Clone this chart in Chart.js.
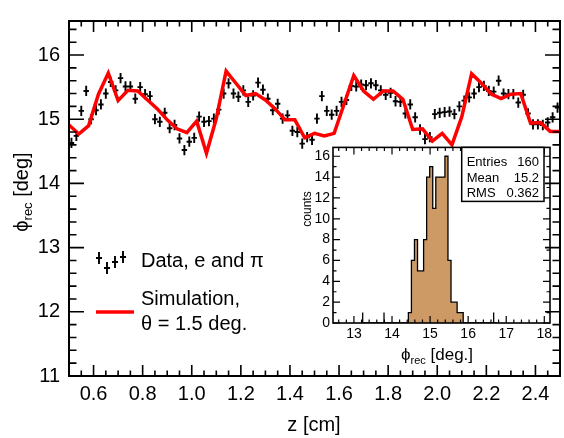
<!DOCTYPE html>
<html>
<head>
<meta charset="utf-8">
<title>phi_rec vs z</title>
<script src="https://cdn.jsdelivr.net/npm/chart.js@4.4.1/dist/chart.umd.min.js"></script>
<style>
  body { margin: 0; background: #fff; }
  #box { position: relative; width: 564px; height: 438px; }
  canvas { position: absolute; }
  #mainChart { left: 0; top: 0; }
  #insetChart { left: 300px; top: 136px; }
</style>
</head>
<body>
<div id="box">
  <canvas id="mainChart" width="564" height="438"></canvas>
  <canvas id="insetChart" width="264" height="240"></canvas>
</div>
<script>
const FONT = '"Liberation Sans", Arial, Helvetica, sans-serif';

// measured points (z in cm, phi_rec in deg)
const zData = [
  0.51, 0.53, 0.55, 0.57, 0.59, 0.61, 0.63, 0.65, 0.67, 0.69,
  0.71, 0.73, 0.75, 0.77, 0.79, 0.81, 0.83, 0.85, 0.87, 0.89,
  0.91, 0.93, 0.95, 0.97, 0.99, 1.01, 1.03, 1.05, 1.07, 1.09,
  1.11, 1.13, 1.15, 1.17, 1.19, 1.21, 1.23, 1.25, 1.27, 1.29,
  1.31, 1.33, 1.35, 1.37, 1.39, 1.41, 1.43, 1.45, 1.47, 1.49,
  1.51, 1.53, 1.55, 1.57, 1.59, 1.61, 1.63, 1.65, 1.67, 1.69,
  1.71, 1.73, 1.75, 1.77, 1.79, 1.81, 1.83, 1.85, 1.87, 1.89,
  1.91, 1.93, 1.95, 1.97, 1.99, 2.01, 2.03, 2.05, 2.07, 2.09,
  2.11, 2.13, 2.15, 2.17, 2.19, 2.21, 2.23, 2.25, 2.27, 2.29,
  2.31, 2.33, 2.35, 2.37, 2.39, 2.41, 2.43, 2.45, 2.47, 2.49
];
const phiData = [
  14.63, 14.74, 15.13, 15.44, 15.00, 15.14, 15.23, 15.40, 15.58, 15.45,
  15.64, 15.51, 15.51, 15.32, 15.50, 15.39, 15.36, 15.00, 14.96, 15.10,
  14.86, 14.91, 14.70, 14.52, 14.65, 14.71, 15.04, 14.96, 14.97, 15.01,
  15.15, 15.40, 15.56, 15.40, 15.35, 15.45, 15.27, 15.37, 15.57, 15.46,
  15.32, 15.14, 15.24, 15.01, 15.06, 14.82, 14.80, 14.62, 14.72, 14.68,
  15.01, 15.36, 15.13, 15.07, 15.13, 15.27, 15.30, 15.52, 15.51, 15.54,
  15.53, 15.56, 15.53, 15.45, 15.38, 15.41, 15.28, 15.27, 15.09, 15.23,
  15.03, 14.84, 14.69, 14.72, 15.08, 15.10, 15.11, 15.12, 15.08, 15.20,
  15.29, 15.34, 15.40, 15.50, 15.52, 15.44, 15.43, 15.60, 15.40, 15.39,
  15.39, 15.26, 15.38, 15.09, 14.92, 14.92, 14.91, 14.95, 15.03, 15.18
];
const zErr = 0.011;
const phiErr = 0.08;

// simulation, theta = 1.5 deg
const zSim = [
  0.50, 0.54, 0.58, 0.62, 0.66, 0.70, 0.74, 0.78, 0.82, 0.86,
  0.90, 0.94, 0.98, 1.02, 1.06, 1.10, 1.14, 1.18, 1.22, 1.26,
  1.30, 1.34, 1.38, 1.42, 1.46, 1.50, 1.54, 1.58, 1.62, 1.66,
  1.70, 1.74, 1.78, 1.82, 1.86, 1.90, 1.94, 1.98, 2.02, 2.06,
  2.10, 2.14, 2.18, 2.22, 2.26, 2.30, 2.34, 2.38, 2.42, 2.46, 2.50
];
const phiSim = [
  14.91, 14.77, 14.90, 15.39, 15.72, 15.29, 15.45, 15.44, 15.30, 15.16,
  14.99, 14.85, 14.79, 14.97, 14.47, 15.01, 15.75, 15.56, 15.37, 15.40,
  15.30, 15.16, 14.99, 14.99, 14.71, 14.78, 14.74, 14.78, 15.23, 15.68,
  15.44, 15.31, 15.44, 15.44, 15.31, 14.84, 14.85, 14.66, 14.78, 14.60,
  15.04, 15.71, 15.56, 15.39, 15.32, 15.39, 15.40, 14.94, 14.95, 14.81, 14.81
];

const xTickLabels = [0.6, 0.8, 1.0, 1.2, 1.4, 1.6, 1.8, 2.0, 2.2, 2.4];
const yTickLabels = [11, 12, 13, 14, 15, 16];

// inset histogram of phi_rec (non-empty bins only)
const histWidth = 0.08;
const histLow = [13.23, 13.79, 14.43, 14.51, 14.59, 14.67, 14.75, 14.83, 14.91, 14.99, 15.07,
                 15.15, 15.23, 15.31, 15.39, 15.47, 15.55, 15.63, 15.71, 15.79, 15.87, 16.67];
const histCounts = [1, 1, 1, 1, 6, 8, 5, 5, 8, 14, 15,
                    11, 14, 14, 14, 16, 6, 2, 2, 1, 1, 1];
const histTickX = [13, 14, 15, 16, 17, 18];
const histTickY = [0, 2, 4, 6, 8, 10, 12, 14, 16];
const statRows = [['Entries', '160'], ['Mean', '15.2'], ['RMS', '0.362']];

// step outline of the histogram (ROOT style)
function histOutline() {
  const pts = [];
  histLow.forEach((lo, i) => {
    const prevAdj = i > 0 && Math.abs(histLow[i - 1] + histWidth - lo) < 1e-6;
    const nextAdj = i < histLow.length - 1 && Math.abs(lo + histWidth - histLow[i + 1]) < 1e-6;
    if (!prevAdj) pts.push({ x: lo, y: 0 });
    pts.push({ x: lo, y: histCounts[i] });
    if (!nextAdj) pts.push({ x: lo + histWidth, y: 0 });
  });
  return pts;
}

// text with a subscript part, e.g. phi_rec
function subText(ctx, x, y, parts, align) {
  let w = 0;
  parts.forEach(p => { ctx.font = p.size + 'px ' + FONT; w += ctx.measureText(p.t).width; });
  let cx = align === 'center' ? x - w / 2 : x;
  ctx.textAlign = 'left';
  ctx.textBaseline = 'alphabetic';
  parts.forEach(p => {
    ctx.font = p.size + 'px ' + FONT;
    ctx.fillText(p.t, cx, y + (p.dy || 0));
    cx += ctx.measureText(p.t).width;
  });
}

// frame + inward ticks on all four sides
function frameTicks(id, o) {
  return {
    id: id,
    afterDraw(chart) {
      const { ctx, chartArea: a, scales: { x, y } } = chart;
      ctx.save();
      ctx.strokeStyle = '#000';
      ctx.lineWidth = o.tickLw;
      ctx.beginPath();
      for (let k = Math.ceil(x.min / o.xMinor - 1e-6); k * o.xMinor <= x.max + 1e-6; k++) {
        const v = k * o.xMinor;
        const major = o.xMajor.some(m => Math.abs(m - v) < 1e-6);
        const L = major ? o.xLen : o.xLen / 2;
        const px = x.getPixelForValue(v);
        ctx.moveTo(px, a.bottom); ctx.lineTo(px, a.bottom - L);
        ctx.moveTo(px, a.top); ctx.lineTo(px, a.top + L);
      }
      for (let k = Math.ceil(y.min / o.yMinor - 1e-6); k * o.yMinor <= y.max + 1e-6; k++) {
        const v = k * o.yMinor;
        const major = o.yMajor.some(m => Math.abs(m - v) < 1e-6);
        const L = major ? o.yLen : o.yLen / 2;
        const py = y.getPixelForValue(v);
        ctx.moveTo(a.left, py); ctx.lineTo(a.left + L, py);
        ctx.moveTo(a.right, py); ctx.lineTo(a.right - L, py);
      }
      ctx.stroke();
      ctx.lineWidth = o.frameLw;
      ctx.strokeRect(a.left, a.top, a.right - a.left, a.bottom - a.top);
      ctx.restore();
    }
  };
}

const errorBars = {
  id: 'errorBars',
  beforeDatasetsDraw(chart) {
    const { ctx, scales: { x, y } } = chart;
    const meta = chart.getDatasetMeta(1);
    ctx.save();
    ctx.strokeStyle = '#000';
    ctx.lineWidth = 1.9;
    ctx.beginPath();
    meta.data.forEach((pt, i) => {
      const x0 = x.getPixelForValue(zData[i] - zErr), x1 = x.getPixelForValue(zData[i] + zErr);
      const y0 = y.getPixelForValue(phiData[i] - phiErr), y1 = y.getPixelForValue(phiData[i] + phiErr);
      ctx.moveTo(x0, pt.y); ctx.lineTo(x1, pt.y);
      ctx.moveTo(pt.x, y0); ctx.lineTo(pt.x, y1);
    });
    ctx.stroke();
    ctx.restore();
  }
};

const mainText = {
  id: 'mainText',
  afterDraw(chart) {
    const ctx = chart.ctx;
    ctx.save();
    ctx.fillStyle = '#000';
    // axis titles
    ctx.font = '20px ' + FONT;
    ctx.textAlign = 'center';
    ctx.fillText('z [cm]', 314, 431);
    ctx.translate(28, 192);
    ctx.rotate(-Math.PI / 2);
    subText(ctx, 0, 0, [{ t: 'ϕ', size: 20 }, { t: 'rec', size: 13, dy: 4 }, { t: ' [deg]', size: 20 }], 'center');
    ctx.setTransform(1, 0, 0, 1, 0, 0);
    // legend
    ctx.strokeStyle = '#000';
    ctx.lineWidth = 1.9;
    [[99, 258], [107, 268], [115, 262], [123, 257]].forEach(([cx, cy]) => {
      ctx.beginPath();
      ctx.moveTo(cx - 3, cy); ctx.lineTo(cx + 3, cy);
      ctx.moveTo(cx, cy - 6); ctx.lineTo(cx, cy + 6);
      ctx.stroke();
    });
    ctx.strokeStyle = '#ff0000';
    ctx.lineWidth = 3.5;
    ctx.beginPath(); ctx.moveTo(96, 312); ctx.lineTo(134, 312); ctx.stroke();
    ctx.font = '20px ' + FONT;
    ctx.textAlign = 'left';
    ctx.fillText('Data, e and π', 141, 267);
    ctx.fillText('Simulation,', 141, 305);
    ctx.fillText('θ = 1.5 deg.', 141, 330);
    ctx.restore();
  }
};

new Chart(document.getElementById('mainChart'), {
  type: 'line',
  data: {
    datasets: [
      {
        label: 'Simulation, θ = 1.5 deg.',
        data: zSim.map((z, i) => ({ x: z, y: phiSim[i] })),
        borderColor: '#ff0000', borderWidth: 3.5, pointRadius: 0, fill: false, tension: 0
      },
      {
        label: 'Data, e and π',
        data: zData.map((z, i) => ({ x: z, y: phiData[i] })),
        showLine: false, pointRadius: 0
      }
    ]
  },
  options: {
    responsive: false, animation: false, devicePixelRatio: 1,
    layout: { padding: { top: 5, right: 4, left: 0, bottom: 0 } },
    plugins: { legend: { display: false }, tooltip: { enabled: false } },
    scales: {
      x: {
        type: 'linear', min: 0.5, max: 2.5,
        grid: { display: false, drawTicks: false }, border: { display: false },
        afterBuildTicks: s => { s.ticks = xTickLabels.map(v => ({ value: v })); },
        afterFit: s => { s.height = 62; },
        ticks: { font: { family: FONT, size: 20 }, color: '#000', padding: 6, maxRotation: 0, autoSkip: false,
                 callback: v => v.toFixed(1) }
      },
      y: {
        type: 'linear', min: 11, max: 16.53,
        grid: { display: false, drawTicks: false }, border: { display: false },
        afterBuildTicks: s => { s.ticks = yTickLabels.map(v => ({ value: v })); },
        afterFit: s => { s.width = 69; },
        ticks: { font: { family: FONT, size: 20 }, color: '#000', padding: 9, autoSkip: false,
                 callback: v => String(v) }
      }
    }
  },
  plugins: [errorBars, frameTicks('mainFrame', {
    xMajor: xTickLabels, xMinor: 0.05, xLen: 11,
    yMajor: yTickLabels, yMinor: 0.2, yLen: 15,
    tickLw: 1.6, frameLw: 2
  }), mainText]
});

const insetText = {
  id: 'insetText',
  afterDraw(chart) {
    const { ctx, chartArea: a } = chart;
    ctx.save();
    // stat box
    const bx = 161.7, by = a.top, bw = 82.3, bh = 54;
    ctx.fillStyle = '#fff';
    ctx.fillRect(bx, by, bw, bh);
    ctx.strokeStyle = '#000';
    ctx.lineWidth = 1.5;
    ctx.strokeRect(bx, by, bw, bh);
    ctx.fillStyle = '#000';
    ctx.font = '13px ' + FONT;
    statRows.forEach(([k, v], i) => {
      const yy = by + 19 + i * 15.5;
      ctx.textAlign = 'left'; ctx.fillText(k, bx + 5, yy);
      ctx.textAlign = 'right'; ctx.fillText(v, bx + bw - 5, yy);
    });
    // axis titles
    ctx.save();
    ctx.translate(11, 73);
    ctx.rotate(-Math.PI / 2);
    ctx.font = '12px ' + FONT;
    ctx.textAlign = 'center';
    ctx.fillText('counts', 0, 0);
    ctx.restore();
    subText(ctx, 137, 224, [{ t: 'ϕ', size: 17 }, { t: 'rec', size: 11, dy: 4 }, { t: ' [deg.]', size: 17 }], 'center');
    ctx.restore();
  }
};

new Chart(document.getElementById('insetChart'), {
  type: 'scatter',
  data: {
    datasets: [{
      label: 'phi_rec',
      data: histOutline(),
      showLine: true, stepped: 'after', fill: 'origin',
      backgroundColor: '#cd9a66', borderColor: '#000', borderWidth: 1.3, pointRadius: 0
    }]
  },
  options: {
    responsive: false, animation: false, devicePixelRatio: 1,
    layout: { padding: { top: 8, right: 14, left: 0, bottom: 0 } },
    plugins: { legend: { display: false }, tooltip: { enabled: false } },
    scales: {
      x: {
        type: 'linear', min: 12.45, max: 18.15,
        grid: { display: false, drawTicks: false }, border: { display: false },
        afterBuildTicks: s => { s.ticks = histTickX.map(v => ({ value: v })); },
        afterFit: s => { s.height = 53; },
        ticks: { font: { family: FONT, size: 14 }, color: '#000', padding: 3, maxRotation: 0, autoSkip: false,
                 callback: v => String(v) }
      },
      y: {
        type: 'linear', min: 0, max: 16.85,
        grid: { display: false, drawTicks: false }, border: { display: false },
        afterBuildTicks: s => { s.ticks = histTickY.map(v => ({ value: v })); },
        afterFit: s => { s.width = 33; },
        ticks: { font: { family: FONT, size: 14 }, color: '#000', padding: 3, autoSkip: false,
                 callback: v => String(v) }
      }
    }
  },
  plugins: [frameTicks('insetFrame', {
    xMajor: histTickX, xMinor: 0.2, xLen: 7,
    yMajor: histTickY, yMinor: 1, yLen: 7,
    tickLw: 1.2, frameLw: 1.6
  }), insetText]
});
</script>
</body>
</html>
